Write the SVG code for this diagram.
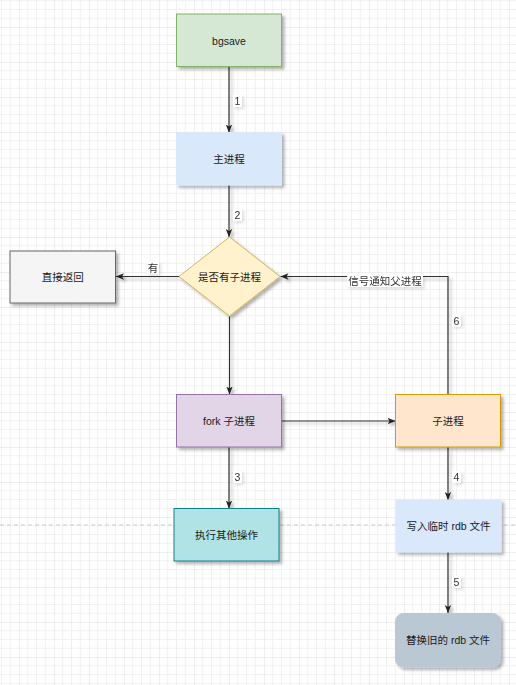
<svg xmlns="http://www.w3.org/2000/svg" width="516" height="685" viewBox="0 0 516 685">
  <defs>
    <pattern id="grid" patternUnits="userSpaceOnUse" x="19" y="27" width="35" height="35">
      <path d="M8.75 0V35M17.5 0V35M26.25 0V35M0 8.75H35M0 17.5H35M0 26.25H35" stroke="#f1f1f1" stroke-width="1" fill="none"/>
      <path d="M0 0V35M0 0H35" stroke="#e0e0e0" stroke-width="1" fill="none"/>
    </pattern>
    <filter id="sh" x="-20%" y="-20%" width="150%" height="150%">
      <feDropShadow dx="2.5" dy="2.5" stdDeviation="1.4" flood-color="#000" flood-opacity="0.3"/>
    </filter>
    <filter id="shl" x="-30%" y="-30%" width="170%" height="170%">
      <feDropShadow dx="2" dy="2" stdDeviation="1.6" flood-color="#000" flood-opacity="0.12"/>
    </filter>
    <marker id="arr" viewBox="0 0 10 10" markerUnits="userSpaceOnUse" markerWidth="8" markerHeight="8" refX="10" refY="5" orient="auto">
      <path d="M0,1 L10,5 L0,9 L2.5,5 Z" fill="#222"/>
    </marker>
  </defs>
  <style>
    text { font-family: "Liberation Sans", "Noto Sans CJK SC", sans-serif; font-size: 10.5px; fill: #1a1a1a; text-anchor: middle; dominant-baseline: central; }
    .edge { fill: none; stroke: #333; stroke-width: 1.2; marker-end: url(#arr); }
    .lbl { fill: #333; }
    .lblbg { fill: #fff; }
  </style>
  <rect width="516" height="685" fill="#fff"/>
  <rect width="516" height="685" fill="url(#grid)"/>
  <line x1="0" y1="525" x2="516" y2="525" stroke="#cccccc" stroke-width="1.2" stroke-dasharray="4 3"/>

  <g id="connectors">
    <g filter="url(#sh)">
      <path class="edge" d="M229 67V132.5"/>
      <path class="edge" d="M229 185V237"/>
      <path class="edge" d="M179 276.5H116"/>
      <path class="edge" d="M229.5 316V394.5"/>
      <path class="edge" d="M281.5 421H395.5"/>
      <path class="edge" d="M229 447V508.5"/>
      <path class="edge" d="M448 447V500"/>
      <path class="edge" d="M448 552V613"/>
      <path class="edge" d="M448 394.5V276.5H280.5"/>
    </g>
    <g filter="url(#shl)">
      <rect class="lblbg" x="233" y="95" width="9" height="12"/>
      <text class="lbl" x="237.5" y="101">1</text>
      <rect class="lblbg" x="233" y="209" width="9" height="12"/>
      <text class="lbl" x="237.5" y="215">2</text>
      <rect class="lblbg" x="147" y="261.5" width="12" height="12"/>
      <text class="lbl" x="153" y="267.5">有</text>
      <rect class="lblbg" x="233" y="471" width="9" height="12"/>
      <text class="lbl" x="237.5" y="477">3</text>
      <rect class="lblbg" x="452" y="471" width="9" height="12"/>
      <text class="lbl" x="456.5" y="477">4</text>
      <rect class="lblbg" x="452" y="576" width="9" height="12"/>
      <text class="lbl" x="456.5" y="582">5</text>
      <rect class="lblbg" x="452" y="314.5" width="9" height="12"/>
      <text class="lbl" x="456.5" y="320.5">6</text>
      <rect class="lblbg" x="347" y="274" width="76" height="13"/>
      <text class="lbl" x="385" y="280.5">信号通知父进程</text>
    </g>
  </g>

  <g id="bgsave">
    <rect x="176.5" y="14" width="105" height="52.5" fill="#d5e8d4" stroke="#82b366" filter="url(#sh)"/>
    <text x="229" y="40.5">bgsave</text>
  </g>
  <g id="main">
    <rect x="176.5" y="132.5" width="105" height="52.5" fill="#dae8fc" stroke="#dae8fc" filter="url(#sh)"/>
    <text x="229" y="159">主进程</text>
  </g>
  <g id="check">
    <polygon points="229.5,237 280,276.5 229.5,316 179,276.5" fill="#fff2cc" stroke="#d6b656" filter="url(#sh)"/>
    <text x="229.5" y="276.5">是否有子进程</text>
  </g>
  <g id="return">
    <rect x="10" y="251" width="105.5" height="52" fill="#f5f5f5" stroke="#666666" filter="url(#sh)"/>
    <text x="62.75" y="277">直接返回</text>
  </g>
  <g id="fork">
    <rect x="176.5" y="394.5" width="105" height="52.5" fill="#e1d5e7" stroke="#9673a6" filter="url(#sh)"/>
    <text x="229" y="421">fork 子进程</text>
  </g>
  <g id="child">
    <rect x="395.5" y="394.5" width="105" height="52.5" fill="#ffe6cc" stroke="#d79b00" filter="url(#sh)"/>
    <text x="448" y="421">子进程</text>
  </g>
  <g id="other">
    <rect x="174" y="508.5" width="105" height="52.5" fill="#b0e3e6" stroke="#0e8088" filter="url(#sh)"/>
    <text x="226.5" y="535">执行其他操作</text>
  </g>
  <g id="write">
    <rect x="396" y="500" width="105" height="52" fill="#dae8fc" stroke="#dae8fc" filter="url(#sh)"/>
    <text x="448.5" y="526">写入临时 rdb 文件</text>
  </g>
  <g id="replace">
    <rect x="395.5" y="613.5" width="105" height="53.5" rx="8" ry="8" fill="#bac8d3" stroke="#bac8d3" filter="url(#sh)"/>
    <text x="448" y="640">替换旧的 rdb 文件</text>
  </g>
</svg>
